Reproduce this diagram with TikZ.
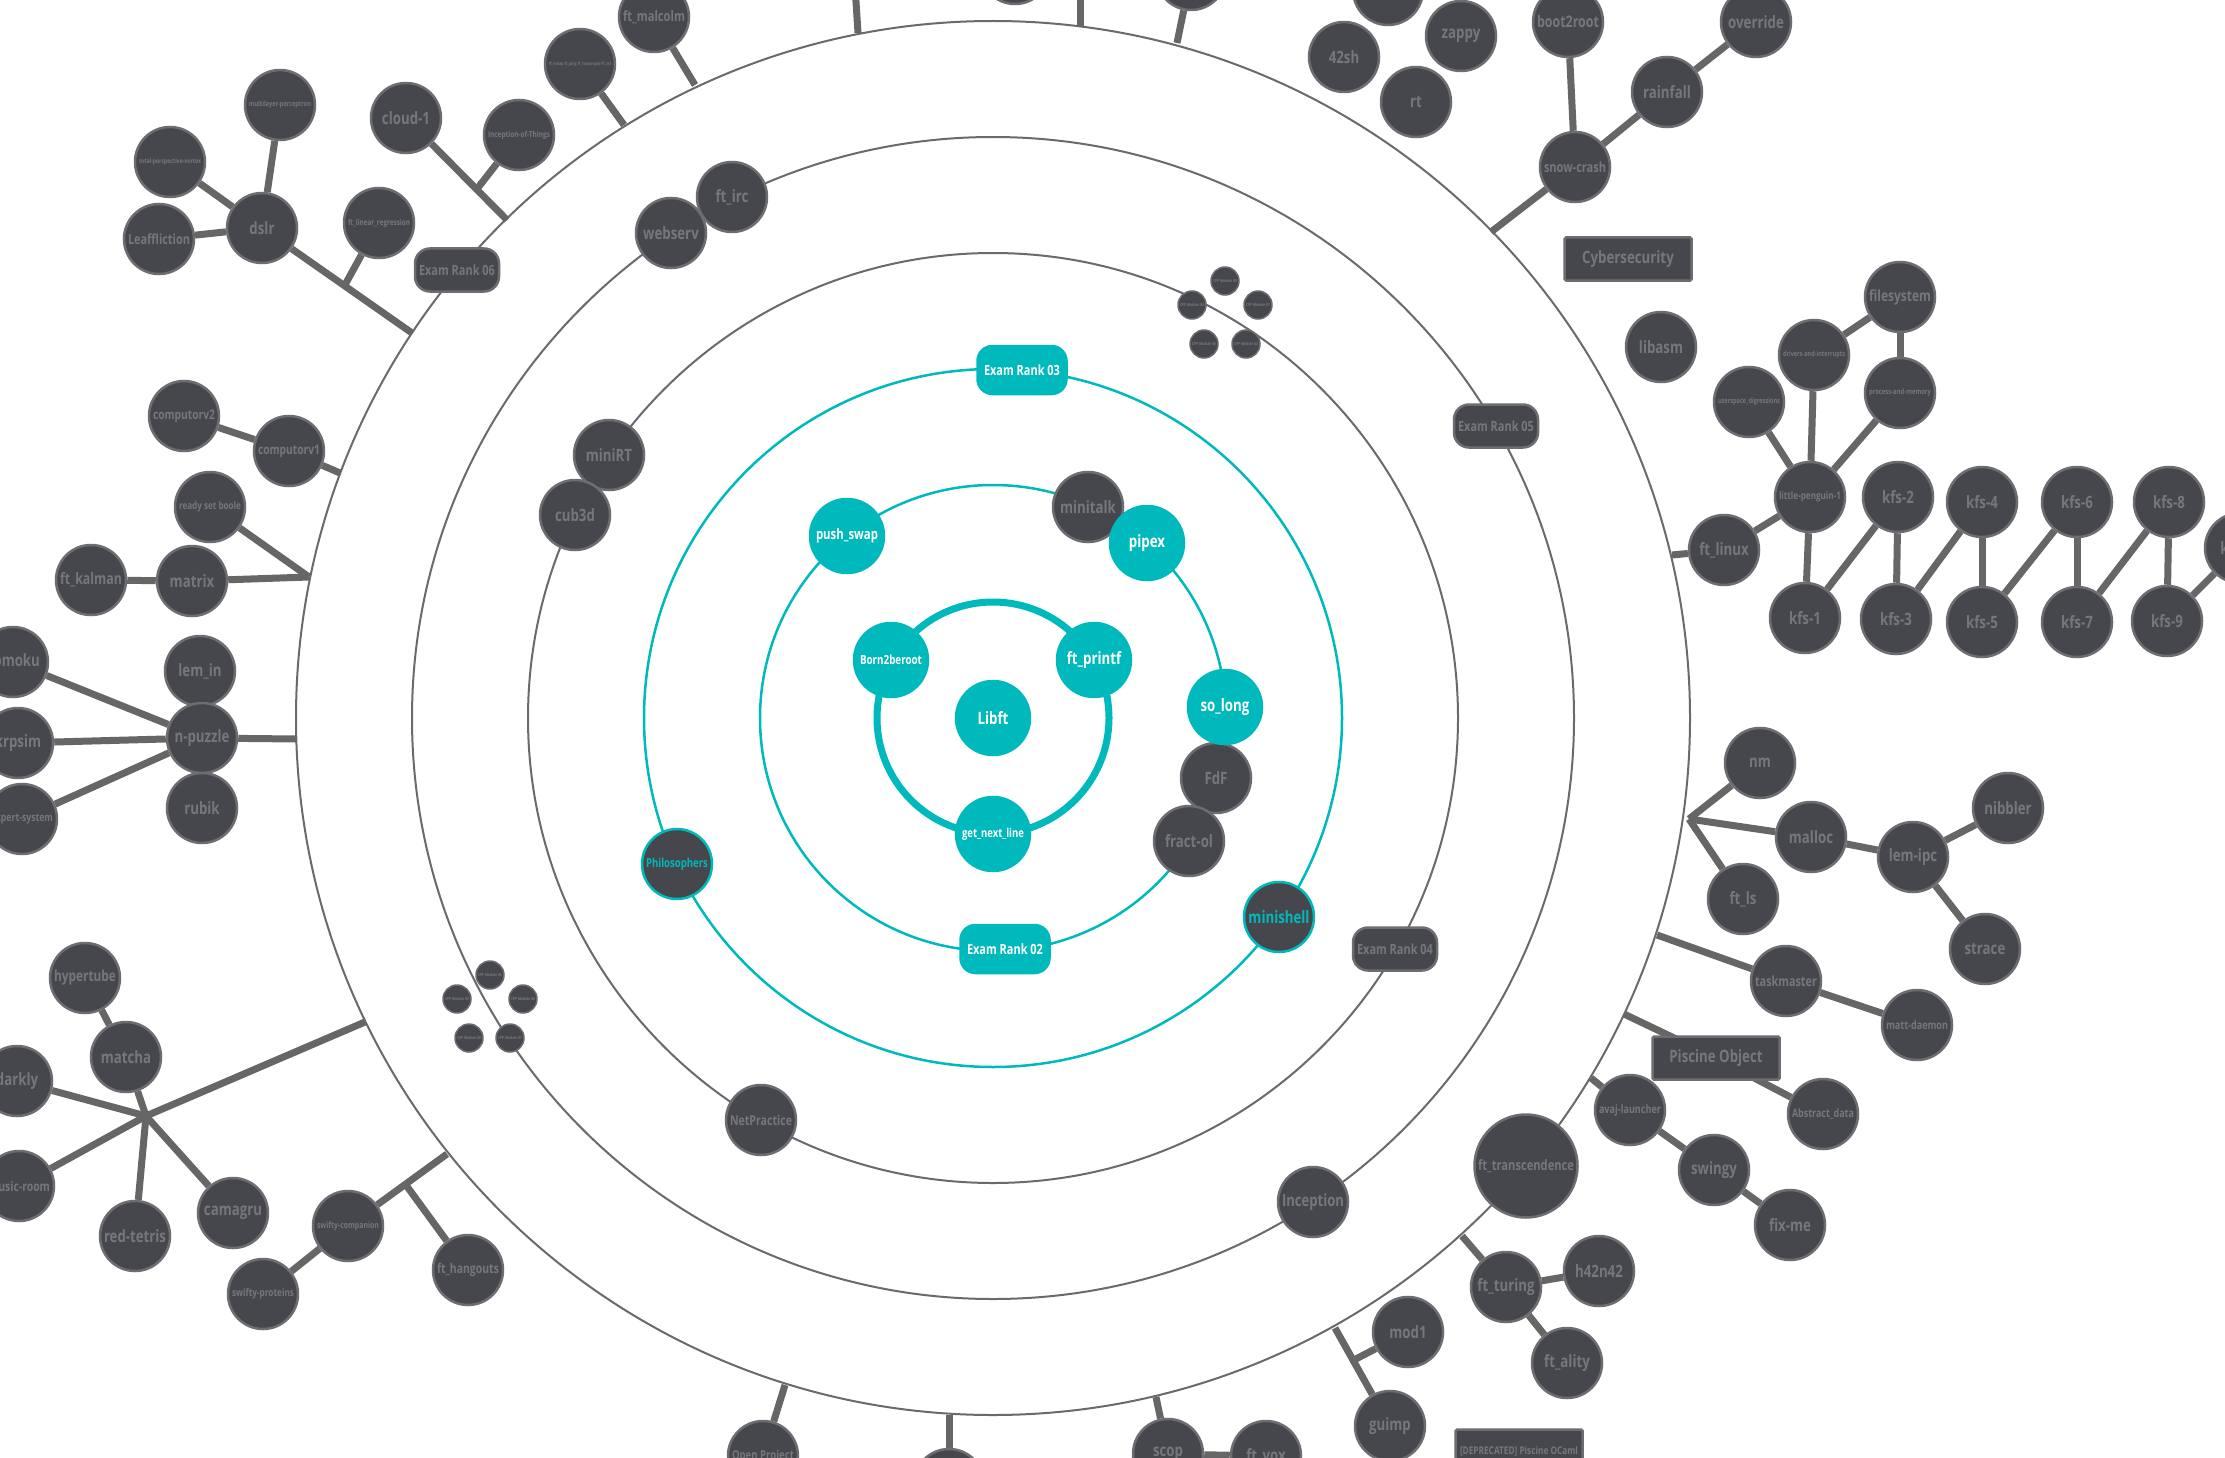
\documentclass[tikz,border=0pt]{standalone}
\usepackage{fontspec}
\setmainfont{Open Sans}[FakeStretch=0.78]
\usepackage{graphicx}
\usetikzlibrary{calc}
\definecolor{tealc}{RGB}{0,185,188}
\definecolor{nfill}{RGB}{70,71,76}
\definecolor{nbord}{RGB}{108,108,113}
\definecolor{ntext}{RGB}{118,119,124}
\definecolor{ringc}{RGB}{105,106,111}
\definecolor{linkc}{RGB}{102,102,102}
\newsavebox\lblbox
\newcommand\fl[2][62]{\sbox\lblbox{#2}\ifdim\wd\lblbox>#1pt\resizebox{#1pt}{!}{\usebox\lblbox}\else\usebox\lblbox\fi}
\pgfdeclarelayer{bg}
\pgfsetlayers{bg,main}
\begin{document}
\begin{tikzpicture}[x=1pt,y=-1pt,
  proj/.style={circle,draw=nbord,line width=2.5pt,fill=nfill,text=ntext,inner sep=0pt,minimum size=70pt,font=\fontsize{17}{20}\selectfont\bfseries},
  tproj/.style={proj,fill=tealc,draw=tealc,text=white,minimum size=74pt},
  hproj/.style={proj,draw=tealc,text=tealc},
  cppnode/.style={proj,minimum size=28pt,line width=1.5pt},
  exambox/.style={rectangle,rounded corners=15pt,draw=nbord,fill=nfill,text=ntext,line width=2.5pt,minimum width=84pt,minimum height=43pt,inner sep=0pt,font=\fontsize{17}{20}\selectfont\bfseries},
  texambox/.style={exambox,fill=tealc,draw=tealc,text=white,minimum width=89pt,minimum height=48pt},
  catbox/.style={rectangle,rounded corners=1.5pt,draw=nbord,fill=nfill,text=ntext,line width=2.5pt,minimum width=127pt,minimum height=43pt,inner sep=0pt,font=\fontsize{17}{20}\selectfont\bfseries},
  lnk/.style={draw=linkc,line width=7pt},
  ringg/.style={draw=ringc,line width=2pt},
  ringt/.style={draw=tealc,line width=2.5pt}
]
\useasboundingbox (0,0) rectangle (2225,1458);
\clip (0,0) rectangle (2225,1458);
\coordinate (C) at (993,718);

% ---------- core ----------
\node[tproj] (libft) at (993,718) {\fl{Libft}};
\node[tproj] (b2br) at (891,660) {\fl{Born2beroot}};
\node[tproj] (printf) at (1094,660) {\fl{ft\_printf}};
\node[tproj] (gnl) at (993,834) {\fl{get\_next\_line}};
\node[tproj] (pushswap) at (847,536) {\fl{push\_swap}};
\node[proj] (minitalk) at (1088,507) {\fl{minitalk}};
\node[tproj] (pipex) at (1147,543) {\fl{pipex}};
\node[proj] (fdf) at (1216,778) {\fl{FdF}};
\node[tproj] (solong) at (1225,707) {\fl{so\_long}};
\node[proj] (fractol) at (1189,841) {\fl{fract-ol}};
\node[texambox] (exam02) at (1005,949) {\fl[76]{Exam Rank 02}};
\node[texambox] (exam03) at (1022,370) {\fl[76]{Exam Rank 03}};
\node[hproj] (philo) at (677,864) {\fl{Philosophers}};
\node[hproj] (minishell) at (1279,917) {\fl{minishell}};

% ---------- ring 3 ----------
\node[proj] (minirt) at (609,455) {\fl{miniRT}};
\node[proj] (cub3d) at (575,515) {\fl{cub3d}};
\node[proj] (netpractice) at (761,1120) {\fl{NetPractice}};
\node[exambox] (exam04) at (1395,949) {\fl[76]{Exam Rank 04}};
\node[cppnode] (cpp00) at (1225,281) {\fl[24]{CPP Module 00}};
\node[cppnode] (cpp01) at (1258,305) {\fl[24]{CPP Module 01}};
\node[cppnode] (cpp02) at (1246,344) {\fl[24]{CPP Module 02}};
\node[cppnode] (cpp03) at (1204,344) {\fl[24]{CPP Module 03}};
\node[cppnode] (cpp04) at (1192,305) {\fl[24]{CPP Module 04}};

% ---------- ring 4 ----------
\node[proj] (ftirc) at (732,197) {\fl{ft\_irc}};
\node[proj] (webserv) at (671,233) {\fl{webserv}};
\node[exambox] (exam05) at (1496,426) {\fl[76]{Exam Rank 05}};
\node[proj] (inception) at (1313,1202) {\fl{Inception}};
\node[cppnode] (cpp05) at (490,975) {\fl[24]{CPP Module 05}};
\node[cppnode] (cpp06) at (523,999) {\fl[24]{CPP Module 06}};
\node[cppnode] (cpp07) at (510,1038) {\fl[24]{CPP Module 07}};
\node[cppnode] (cpp08) at (469,1038) {\fl[24]{CPP Module 08}};
\node[cppnode] (cpp09) at (457,999) {\fl[24]{CPP Module 09}};

% ---------- ring 5 ----------
\node[exambox] (exam06) at (457,270) {\fl[76]{Exam Rank 06}};
\node[proj,minimum size=103pt] (transc) at (1526,1166) {\fl[96]{ft\_transcendence}};

% ---------- outer: top left ----------
\node[proj] (ftmalcolm) at (654,17) {\fl{ft\_malcolm}};
\node[proj] (tinyp) at (580,64) {\fl{ft\_nmap ft\_ping ft\_traceroute ft\_ssl}};
\node[proj] (cloud1) at (406,118) {\fl{cloud-1}};
\node[proj] (iot) at (519,135) {\fl{Inception-of-Things}};
\node[proj] (mlp) at (280,105) {\fl{multilayer-perceptron}};
\node[proj] (tpv) at (170,162) {\fl{total-perspective-vortex}};
\node[proj] (leaff) at (159,239) {\fl{Leaffliction}};
\node[proj] (dslr) at (262,228) {\fl{dslr}};
\node[proj] (ftlr) at (379,223) {\fl{ft\_linear\_regression}};

% ---------- outer: left ----------
\node[proj] (compv2) at (184,416) {\fl{computorv2}};
\node[proj] (compv1) at (289,451) {\fl{computorv1}};
\node[proj] (rsb) at (210,507) {\fl{ready set boole}};
\node[proj] (kalman) at (91,580) {\fl{ft\_kalman}};
\node[proj] (matrix) at (192,581) {\fl{matrix}};
\node[proj] (lemin) at (200,671) {\fl{lem\_in}};
\node[proj] (rubik) at (202,808) {\fl{rubik}};
\node[proj] (npuzzle) at (202,738) {\fl{n-puzzle}};
\node[proj] (gomoku) at (13,662) {\fl{gomoku}};
\node[proj] (krpsim) at (18,743) {\fl{krpsim}};
\node[proj] (expert) at (22,819) {\fl{expert-system}};

% ---------- outer: bottom left ----------
\node[proj] (hypertube) at (85,978) {\fl{hypertube}};
\node[proj] (matcha) at (126,1057) {\fl{matcha}};
\node[proj] (darkly) at (17,1081) {\fl{darkly}};
\node[proj] (musicroom) at (19,1186) {\fl{music-room}};
\node[proj] (redtetris) at (135,1236) {\fl{red-tetris}};
\node[proj] (camagru) at (233,1213) {\fl{camagru}};
\node[proj] (swcomp) at (348,1226) {\fl{swifty-companion}};
\node[proj] (swprot) at (263,1294) {\fl{swifty-proteins}};
\node[proj] (hangouts) at (468,1270) {\fl{ft\_hangouts}};

% ---------- outer: bottom ----------
\node[proj] (openproj) at (763,1456) {\fl{Open Project}};
\node[proj] (botnode) at (949,1484) {};
\node[proj] (scop) at (1168,1454) {\fl{scop}};
\node[proj] (ftvox) at (1266,1456) {\fl{ft\_vox}};
\node[proj] (mod1) at (1408,1332) {\fl{mod1}};
\node[proj] (guimp) at (1390,1426) {\fl{guimp}};
\node[catbox] (deprec) at (1519,1451) {\fl[118]{[DEPRECATED] Piscine OCaml}};
\node[proj] (fturing) at (1506,1287) {\fl{ft\_turing}};
\node[proj] (h42n42) at (1599,1271) {\fl{h42n42}};
\node[proj] (ftality) at (1567,1363) {\fl{ft\_ality}};

% ---------- outer: bottom right ----------
\node[proj] (avaj) at (1630,1110) {\fl{avaj-launcher}};
\node[proj] (swingy) at (1714,1170) {\fl{swingy}};
\node[proj] (fixme) at (1790,1225) {\fl{fix-me}};
\node[proj] (abstract) at (1823,1114) {\fl{Abstract\_data}};
\node[catbox] (pobject) at (1716,1058) {\fl[118]{Piscine Object}};
\node[proj] (taskmaster) at (1786,981) {\fl{taskmaster}};
\node[proj] (mattd) at (1917,1025) {\fl{matt-daemon}};
\node[proj] (nm) at (1760,763) {\fl{nm}};
\node[proj] (malloc) at (1811,837) {\fl{malloc}};
\node[proj] (ftls) at (1743,899) {\fl{ft\_ls}};
\node[proj] (lemipc) at (1913,857) {\fl{lem-ipc}};
\node[proj] (nibbler) at (2008,808) {\fl{nibbler}};
\node[proj] (strace) at (1985,949) {\fl{strace}};

% ---------- outer: right ----------
\node[proj] (ftlinux) at (1724,550) {\fl{ft\_linux}};
\node[proj] (lp1) at (1810,497) {\fl{little-penguin-1}};
\node[proj] (usd) at (1749,402) {\fl{userspace\_digressions}};
\node[proj] (dai) at (1814,355) {\fl{drivers-and-interrupts}};
\node[proj] (pam) at (1900,393) {\fl{process-and-memory}};
\node[proj] (fsys) at (1900,297) {\fl{filesystem}};
\node[proj] (kfs1) at (1805,618) {\fl{kfs-1}};
\node[proj] (kfs2) at (1898,497) {\fl{kfs-2}};
\node[proj] (kfs3) at (1896,619) {\fl{kfs-3}};
\node[proj] (kfs4) at (1982,502) {\fl{kfs-4}};
\node[proj] (kfs5) at (1982,622) {\fl{kfs-5}};
\node[proj] (kfs6) at (2077,502) {\fl{kfs-6}};
\node[proj] (kfs7) at (2077,622) {\fl{kfs-7}};
\node[proj] (kfs8) at (2169,502) {\fl{kfs-8}};
\node[proj] (kfs9) at (2167,621) {\fl{kfs-9}};
\node[proj] (kfs10) at (2240,548) {\fl{kfs-10}};
\node[proj] (libasm) at (1661,347) {\fl{libasm}};
\node[catbox] (cyber) at (1628,259) {\fl[118]{Cybersecurity}};

% ---------- outer: top right ----------
\node[proj] (snowcrash) at (1575,167) {\fl{snow-crash}};
\node[proj] (boot2root) at (1568,22) {\fl{boot2root}};
\node[proj] (rainfall) at (1667,92) {\fl{rainfall}};
\node[proj] (override) at (1756,22) {\fl{override}};
\node[proj] (sh42) at (1344,57) {\fl{42sh}};
\node[proj] (topn) at (1388,-10) {};
\node[proj] (zappy) at (1461,36) {\fl{zappy}};
\node[proj] (rt) at (1416,102) {\fl{rt}};
\node[proj] (top1) at (853,-45) {};
\node[proj] (top2) at (1015,-31) {};
\node[proj] (top3) at (1080,-45) {};
\node[proj] (top4) at (1191,-25) {};

% ---------- ring points ----------
\coordinate (rMal) at (695,85);
\coordinate (rTiny) at (624,125);
\coordinate (rCloud) at (507,220);
\coordinate (rDslr) at (412,333);
\coordinate (rComp) at (340,473);
\coordinate (rMatrix) at (309,577);
\coordinate (rNpz) at (296,739);
\coordinate (rWeb) at (365,1022);
\coordinate (rSwift) at (447,1154);
\coordinate (rOpen) at (785,1385);
\coordinate (rBot) at (949,1415);
\coordinate (rScop) at (1156,1397);
\coordinate (rMod) at (1335,1328);
\coordinate (rTuring) at (1462,1236);
\coordinate (rAvaj) at (1591,1078);
\coordinate (rPObj) at (1624,1014);
\coordinate (rTask) at (1657,935);
\coordinate (rNm) at (1689,819);
\coordinate (rLinux) at (1672,555);
\coordinate (rSnow) at (1491,232);
\coordinate (rTop1) at (858,33);
\coordinate (rTop3) at (1080,27);
\coordinate (rTop4) at (1177,43);
\coordinate (jWeb) at (146,1116);
\coordinate (bCloud) at ($(rCloud)!0.3!(cloud1)$);
\coordinate (bDslr) at ($(rDslr)!0.45!(dslr)$);
\coordinate (bSwift) at ($(rSwift)!0.42!(swcomp)$);
\coordinate (bMod) at ($(rMod)!0.33!(guimp)$);

\begin{pgfonlayer}{bg}
\fill[white] (0,0) rectangle (2225,1458);
\draw[ringg] (C) circle[radius=697];
\draw[ringg] (C) circle[radius=581];
\draw[ringg] (C) circle[radius=465];
\draw[ringt] (C) circle[radius=349];
\draw[ringt] (C) circle[radius=233];
\draw[draw=tealc,line width=7pt] (C) circle[radius=116];
% connectors
\draw[lnk] (rMal) -- (ftmalcolm);
\draw[lnk] (rTiny) -- (tinyp);
\draw[lnk] (rCloud) -- (cloud1);
\draw[lnk] (bCloud) -- (iot);
\draw[lnk] (rDslr) -- (dslr);
\draw[lnk] (bDslr) -- (ftlr);
\draw[lnk] (dslr) -- (mlp);
\draw[lnk] (dslr) -- (tpv);
\draw[lnk] (dslr) -- (leaff);
\draw[lnk] (rComp) -- (compv1);
\draw[lnk] (compv1) -- (compv2);
\draw[lnk] (rMatrix) -- (rsb);
\draw[lnk] (rMatrix) -- (matrix);
\draw[lnk] (matrix) -- (kalman);
\draw[lnk] (rNpz) -- (npuzzle);
\draw[lnk] (npuzzle) -- (gomoku);
\draw[lnk] (npuzzle) -- (krpsim);
\draw[lnk] (npuzzle) -- (expert);
\draw[lnk] (rWeb) -- (jWeb);
\draw[lnk] (hypertube) -- (matcha);
\draw[lnk] (jWeb) -- (matcha);
\draw[lnk] (jWeb) -- (darkly);
\draw[lnk] (jWeb) -- (musicroom);
\draw[lnk] (jWeb) -- (redtetris);
\draw[lnk] (jWeb) -- (camagru);
\draw[lnk] (rSwift) -- (swcomp);
\draw[lnk] (bSwift) -- (hangouts);
\draw[lnk] (swcomp) -- (swprot);
\draw[lnk] (rOpen) -- (openproj);
\draw[lnk] (rBot) -- (botnode);
\draw[lnk] (rScop) -- (scop);
\draw[lnk] (scop) -- (ftvox);
\draw[lnk] (rMod) -- (guimp);
\draw[lnk] (bMod) -- (mod1);
\draw[lnk] (rTuring) -- (fturing);
\draw[lnk] (fturing) -- (h42n42);
\draw[lnk] (fturing) -- (ftality);
\draw[lnk] (rAvaj) -- (avaj);
\draw[lnk] (avaj) -- (swingy);
\draw[lnk] (swingy) -- (fixme);
\draw[lnk] (rPObj) -- (pobject.center);
\draw[lnk] (pobject.center) -- (abstract);
\draw[lnk] (rTask) -- (taskmaster);
\draw[lnk] (taskmaster) -- (mattd);
\draw[lnk] (rNm) -- (nm);
\draw[lnk] (rNm) -- (malloc);
\draw[lnk] (rNm) -- (ftls);
\draw[lnk] (malloc) -- (lemipc);
\draw[lnk] (lemipc) -- (nibbler);
\draw[lnk] (lemipc) -- (strace);
\draw[lnk] (rLinux) -- (ftlinux);
\draw[lnk] (ftlinux) -- (lp1);
\draw[lnk] (lp1) -- (usd);
\draw[lnk] (lp1) -- (dai);
\draw[lnk] (lp1) -- (pam);
\draw[lnk] (dai) -- (fsys);
\draw[lnk] (fsys) -- (pam);
\draw[lnk] (lp1) -- (kfs1);
\draw[lnk] (kfs1) -- (kfs2);
\draw[lnk] (kfs2) -- (kfs3);
\draw[lnk] (kfs3) -- (kfs4);
\draw[lnk] (kfs4) -- (kfs5);
\draw[lnk] (kfs5) -- (kfs6);
\draw[lnk] (kfs6) -- (kfs7);
\draw[lnk] (kfs7) -- (kfs8);
\draw[lnk] (kfs8) -- (kfs9);
\draw[lnk] (kfs9) -- (kfs10);
\draw[lnk] (rSnow) -- (snowcrash);
\draw[lnk] (snowcrash) -- (boot2root);
\draw[lnk] (snowcrash) -- (rainfall);
\draw[lnk] (rainfall) -- (override);
\draw[lnk] (rTop1) -- (top1);
\draw[lnk] (rTop3) -- (top3);
\draw[lnk] (rTop4) -- (top4);
\end{pgfonlayer}
\end{tikzpicture}
\end{document}
